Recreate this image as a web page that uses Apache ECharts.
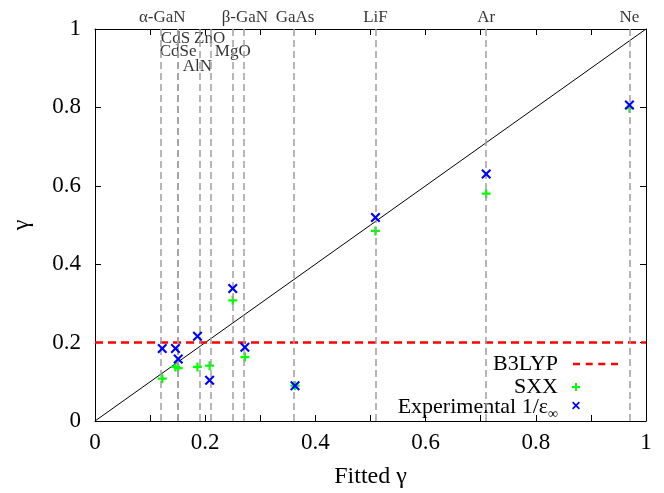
<!DOCTYPE html>
<html lang="en">
<head>
    <meta charset="UTF-8">
    <title>Fitted gamma</title>
    <script src="https://cdn.jsdelivr.net/npm/echarts/dist/echarts.min.js"></script>
    <style>
        body { margin: 0; }
        #chart { width: 664px; height: 493px; }
    </style>
</head>
<body>
    <div id="chart"></div>
    <script>
        // data
        const materials = ['α-GaN', 'CdS', 'CdSe', 'AlN', 'ZnO', 'MgO', 'β-GaN', 'GaAs', 'LiF', 'Ar', 'Ne'];
        const fitted = [0.122, 0.146, 0.151, 0.186, 0.208, 0.250, 0.272, 0.363, 0.509, 0.710, 0.970];
        const sxx = [0.108, 0.138, 0.135, 0.138, 0.141, 0.308, 0.163, 0.090, 0.485, 0.580, 0.798];
        const expt = [0.185, 0.185, 0.158, 0.216, 0.104, 0.338, 0.188, 0.090, 0.519, 0.630, 0.806];
        const b3lyp = 0.2;

        // label layout (row of each material name, row heights in axis units)
        const labelRow = [0, 1, 2, 3, 1, 2, 0, 0, 0, 0, 0];
        const rowY = [1.028, 0.976, 0.943, 0.905];

        const font = 'Liberation Serif';
        const plusPath = 'path://M3.75,0H6.25V3.75H10V6.25H6.25V10H3.75V6.25H0V3.75H3.75Z';
        const crossPath = 'path://M0,1.5L1.5,0L5,3.5L8.5,0L10,1.5L6.5,5L10,8.5L8.5,10L5,6.5L1.5,10L0,8.5L3.5,5Z';
        const dashPath = 'path://M0,0H7V2.5H0Z M12.7,0H19.7V2.5H12.7Z M25.3,0H32.3V2.5H25.3Z M38,0H45V2.5H38Z';
        const expName = 'Experimental 1/ε∞';

        const chart = echarts.init(document.getElementById('chart'));

        const axisCommon = {
            type: 'value', min: 0, max: 1,
            axisLine: { show: true, onZero: false, lineStyle: { color: '#000', width: 1 } },
            axisTick: { show: true, inside: true, length: 6, lineStyle: { color: '#000' } },
            splitLine: { show: false }
        };

        function tickText(v) {
            const k = Math.round(v * 10);
            return k % 2 === 0 ? String(k / 10) : '';
        }

        chart.setOption({
            animation: false,
            grid: { left: 95, right: 18, top: 29, bottom: 72, outerBoundsMode: 'none', containLabel: false },
            xAxis: [
                Object.assign({}, axisCommon, {
                    position: 'bottom', interval: 0.1,
                    name: 'Fitted γ', nameLocation: 'middle', nameGap: 44,
                    nameTextStyle: { fontFamily: font, fontSize: 24, color: '#000' },
                    axisLabel: { formatter: tickText, fontFamily: font, fontSize: 23, color: '#000', margin: 10 }
                }),
                Object.assign({}, axisCommon, {
                    position: 'top', interval: 0.1, axisLabel: { show: false }
                })
            ],
            yAxis: [
                Object.assign({}, axisCommon, {
                    position: 'left', interval: 0.2,
                    name: 'γ', nameLocation: 'middle', nameGap: 61, nameRotate: 90,
                    nameTextStyle: { fontFamily: font, fontSize: 24, color: '#000' },
                    axisLabel: { formatter: v => String(Math.round(v * 10) / 10), fontFamily: font, fontSize: 23, color: '#000', margin: 14 }
                }),
                Object.assign({}, axisCommon, {
                    position: 'right', interval: 0.2, axisLabel: { show: false }
                })
            ],
            legend: [
                {
                    data: [{ name: 'B3LYP', icon: dashPath }], right: 46, top: 353, align: 'right', padding: 0,
                    itemWidth: 45, itemHeight: 2.5,
                    itemStyle: { color: '#ff0000' },
                    textStyle: { fontFamily: font, fontSize: 22, color: '#000', padding: [0, 10, 0, 0] }
                },
                {
                    data: ['SXX'], right: 84, top: 376, align: 'right', padding: 0,
                    itemWidth: 8, itemHeight: 8,
                    textStyle: { fontFamily: font, fontSize: 22, color: '#000', padding: [0, 9, 0, 0] }
                },
                {
                    data: [expName], right: 84, top: 396, align: 'right', padding: 0,
                    itemWidth: 8, itemHeight: 8,
                    formatter: () => '{a|Experimental 1/ε}{b|∞}',
                    textStyle: {
                        fontFamily: font, fontSize: 22, color: '#000', padding: [0, 9, 0, 0],
                        rich: {
                            a: { fontFamily: font, fontSize: 22, color: '#000', lineHeight: 25, verticalAlign: 'bottom' },
                            b: { fontFamily: font, fontSize: 14, color: '#000', lineHeight: 14, verticalAlign: 'bottom', padding: [0, 0, -3, 0] }
                        }
                    }
                }
            ],
            series: [
                {
                    // material names and their fitted-gamma guide lines
                    type: 'scatter',
                    silent: true,
                    clip: false,
                    symbolSize: 1,
                    itemStyle: { color: 'transparent' },
                    data: fitted.map((v, i) => [v, rowY[labelRow[i]]]),
                    label: {
                        show: true, position: 'inside',
                        formatter: p => materials[p.dataIndex],
                        fontFamily: font, fontSize: 17, color: '#000'
                    },
                    markLine: {
                        silent: true,
                        symbol: ['none', 'none'],
                        label: { show: false },
                        lineStyle: { color: '#a0a0a0', type: [7, 4], width: 1.5 },
                        data: fitted.map(v => ({ xAxis: v }))
                    },
                    z: 1
                },
                {
                    type: 'line',
                    silent: true,
                    symbol: 'none',
                    data: [[0, 0], [1, 1]],
                    lineStyle: { color: '#000', width: 1 },
                    z: 2
                },
                {
                    name: 'B3LYP',
                    type: 'line',
                    symbol: 'none',
                    data: [[0, b3lyp], [1, b3lyp]],
                    itemStyle: { color: '#ff0000' },
                    lineStyle: { color: '#ff0000', width: 2.5, type: [8, 5] },
                    z: 3
                },
                {
                    name: 'SXX',
                    type: 'scatter',
                    symbol: plusPath,
                    symbolSize: 9,
                    itemStyle: { color: '#00ff00', opacity: 1 },
                    data: fitted.map((v, i) => [v, sxx[i]]),
                    z: 4
                },
                {
                    name: expName,
                    type: 'scatter',
                    symbol: crossPath,
                    symbolSize: 10,
                    itemStyle: { color: '#0000ff', opacity: 1 },
                    data: fitted.map((v, i) => [v, expt[i]]),
                    z: 5
                }
            ]
        });
    </script>
</body>
</html>
